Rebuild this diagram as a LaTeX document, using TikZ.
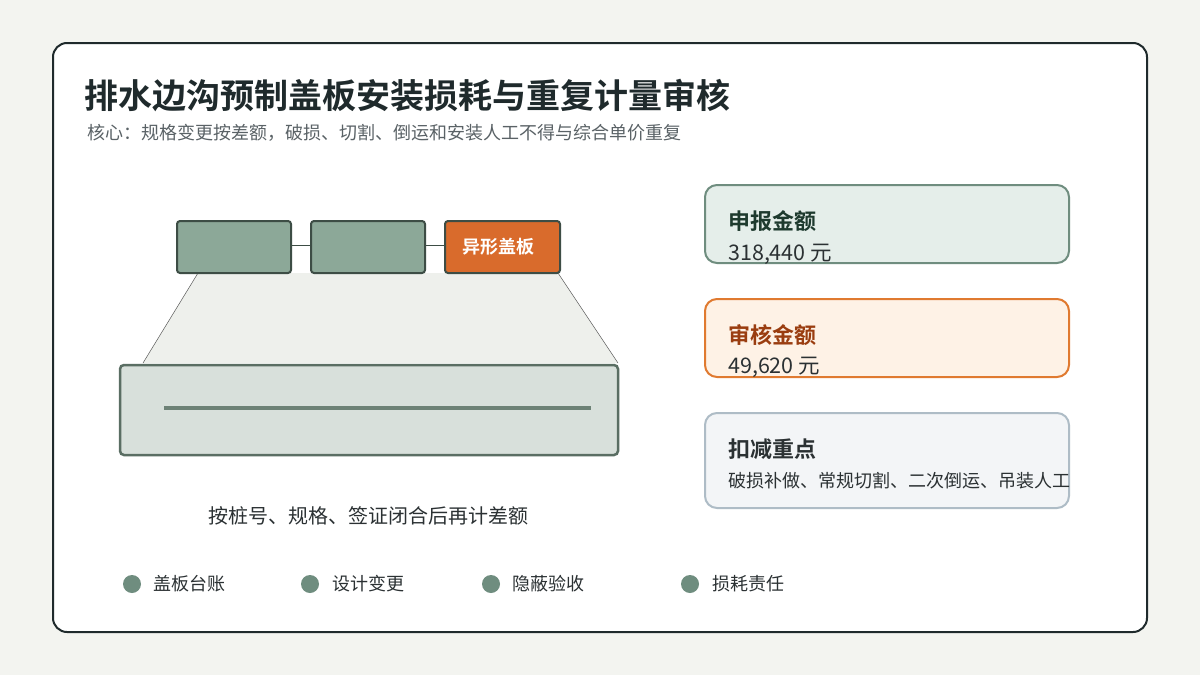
\documentclass[tikz,border=0pt]{standalone}
\usepackage{fontspec}
\setmainfont{Noto Sans CJK SC}
\newfontfamily\cjkb{Noto Sans CJK SC Bold}
\definecolor{bg}{HTML}{F3F4F0}
\definecolor{ink}{HTML}{1F2A2C}
\definecolor{sub}{HTML}{5A6266}
\definecolor{gbox}{HTML}{8CA898}
\definecolor{gline}{HTML}{3D4D45}
\definecolor{org}{HTML}{D96B2C}
\definecolor{trap}{HTML}{EEF0EC}
\definecolor{slab}{HTML}{D8E0DB}
\definecolor{slabl}{HTML}{5A6E63}
\definecolor{inl}{HTML}{6D8276}
\definecolor{c1f}{HTML}{E5EEEA}\definecolor{c1s}{HTML}{6F8D7F}\definecolor{c1t}{HTML}{1E3A2E}
\definecolor{c2f}{HTML}{FEF2E6}\definecolor{c2s}{HTML}{E07A30}\definecolor{c2t}{HTML}{9A3D10}
\definecolor{c3f}{HTML}{F3F5F7}\definecolor{c3s}{HTML}{AEBCC6}\definecolor{c3t}{HTML}{2B3133}
\tikzset{
 pbox/.style={draw=gline,line width=2pt,rounded corners=3pt,fill=gbox},
 card/.style={line width=2pt,rounded corners=12pt},
 ctitle/.style={anchor=base west,font=\cjkb\fontsize{22}{26}\selectfont},
 cval/.style={anchor=base west,text=c3t,font=\fontsize{21.5}{24}\selectfont,inner sep=0},
 leg/.style={circle,fill=c1s,minimum size=18pt,inner sep=0},
 legt/.style={anchor=west,text=c3t,font=\fontsize{18}{22}\selectfont,inner sep=0},
}
\begin{document}
\begin{tikzpicture}[x=1pt,y=-1pt]
\fill[bg] (0,0) rectangle (1200,675);
\useasboundingbox (0,0) rectangle (1200,675);
\draw[fill=white,draw=ink,line width=2pt,rounded corners=14pt] (53,43) rectangle (1147,632);
\node[anchor=base west,inner sep=0,text=ink,font=\cjkb\fontsize{34}{38}\selectfont] (title) at (84,108) {排水边沟预制盖板安装损耗与重复计量审核};
\node[anchor=base west,inner sep=0,text=sub,font=\fontsize{18}{20}\selectfont] (subt) at (87,139) {核心：规格变更按差额，破损、切割、倒运和安装人工不得与综合单价重复};
% trapezoid
\fill[trap] (198,273) -- (558,273) -- (618,363) -- (143,363) -- cycle;
\draw[gray!70!black,line width=0.5pt] (198,273) -- (143,363);
\draw[gray!70!black,line width=0.5pt] (558,273) -- (618,363);
% boxes
\draw[gline,line width=0.5pt] (291,245) -- (311,245) (425,245) -- (445,245);
\node[pbox,minimum width=114pt,minimum height=52pt] (b1) at (234,247) {};
\node[pbox,minimum width=114pt,minimum height=52pt] (b2) at (368,247) {};
\node[pbox,fill=org,minimum width=115pt,minimum height=52pt,text=white,font=\cjkb\fontsize{18}{22}\selectfont] (b3) at (502.5,247) {\hspace*{-8pt}异形盖板};
% slab
\draw[fill=slab,draw=slabl,line width=2.5pt,rounded corners=4pt] (120,365) rectangle (618,455);
\draw[inl,line width=4pt] (164,408) -- (591,408);
\node[text=c3t,font=\fontsize{20}{24}\selectfont] (cap) at (368,516) {按桩号、规格、签证闭合后再计差额};
% cards
\draw[card,fill=c1f,draw=c1s] (705,185) rectangle (1069,263);
\node[ctitle,text=c1t,inner sep=0] (t1) at (728,229) {申报金额};
\node[cval] (v1) at (728,260) {318,440 元};
\draw[card,fill=c2f,draw=c2s] (705,299) rectangle (1069,377);
\node[ctitle,text=c2t,inner sep=0] (t2) at (728,343) {审核金额};
\node[cval] (v2) at (728,373) {49,620 元};
\draw[card,fill=c3f,draw=c3s] (705,413) rectangle (1069,508);
\node[ctitle,text=c3t,inner sep=0] (t3) at (728,457) {扣减重点};
\node[cval,font=\fontsize{18}{22}\selectfont] (v3) at (728,487) {破损补做、常规切割、二次倒运、吊装人工};
% legend
\node[leg] (l1) at (132,584) {}; \node[legt] at (153,584) {盖板台账};
\node[leg] (l2) at (310,584) {}; \node[legt] at (332,584) {设计变更};
\node[leg] (l3) at (491,584) {}; \node[legt] at (512,584) {隐蔽验收};
\node[leg] (l4) at (690,584) {}; \node[legt] at (712,584) {损耗责任};
\end{tikzpicture}
\end{document}
